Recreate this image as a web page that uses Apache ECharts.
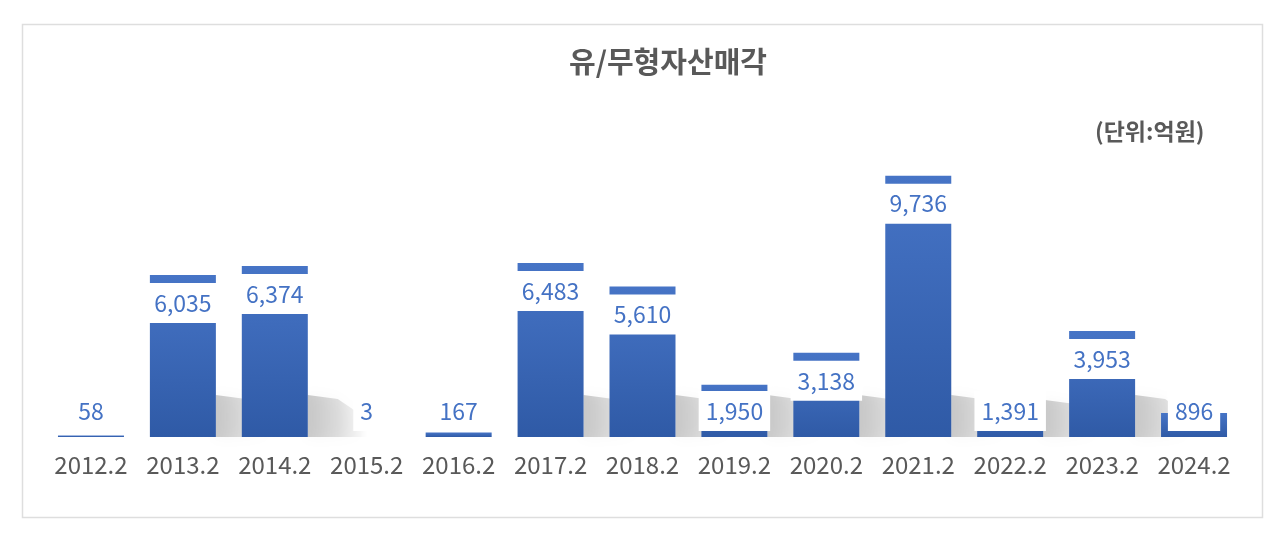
<!DOCTYPE html>
<html>
<head>
<meta charset="utf-8">
<script src="https://cdn.jsdelivr.net/npm/echarts@6/dist/echarts.min.js"></script>
<style>
  html, body { margin: 0; padding: 0; background: #fff; }
  #main { width: 1280px; height: 533px; }
</style>
</head>
<body>
<div id="main"></div>
<script>
// 연도별 유/무형자산 매각 (단위: 억원)
var years = ['2012.2','2013.2','2014.2','2015.2','2016.2','2017.2','2018.2','2019.2','2020.2','2021.2','2022.2','2023.2','2024.2'];
var sales = [58, 6035, 6374, 3, 167, 6483, 5610, 1950, 3138, 9736, 1391, 3953, 896];

var fontKr = '"Noto Sans CJK KR", "Noto Sans", sans-serif';
var barW = 66;

var myChart = echarts.init(document.getElementById('main'));

// 막대 오른쪽 바닥 그림자
function shadowItem(params, api) {
  var i = api.value(0);
  var base = api.coord([i, 0]);
  var top = api.coord([i, api.value(1)]);
  var h = Math.min(base[1] - top[1], 42);
  if (h < 30) return null;
  var x0 = base[0] + barW / 2;
  return {
    type: 'polygon',
    shape: { points: [[x0, base[1]], [x0, base[1] - h], [x0 + 30, base[1] - h + 4], [x0 + 55, base[1] - h * 0.5], [x0 + 60, base[1]]] },
    style: {
      fill: new echarts.graphic.LinearGradient(0, 0, 1, 0, [
        { offset: 0, color: 'rgba(0,0,0,0.2)' },
        { offset: 0.5, color: 'rgba(0,0,0,0.12)' },
        { offset: 1, color: 'rgba(0,0,0,0)' }
      ]),
      shadowBlur: 14,
      shadowColor: 'rgba(0,0,0,0.18)'
    }
  };
}

myChart.setOption({
  animation: false,
  title: {
    text: '유/무형자산매각',
    left: 663,
    textAlign: 'center',
    top: 42,
    textStyle: { fontFamily: fontKr, fontSize: 29, fontWeight: 'bold', color: '#595959' }
  },
  graphic: [
    {
      type: 'rect',
      shape: { x: 22.5, y: 24.5, width: 1240, height: 493 },
      style: { fill: 'none', stroke: '#dedede', lineWidth: 1.5 },
      silent: true
    },
    {
      type: 'text',
      left: 1095,
      top: 120,
      style: { text: '(단위:억원)', fontFamily: fontKr, fontSize: 23, fontWeight: 'bold', fill: '#595959' }
    }
  ],
  grid: { left: 45, right: 40, top: 115, bottom: 96 },
  xAxis: {
    type: 'category',
    data: years,
    axisLine: { show: false },
    axisTick: { show: false },
    axisLabel: { interval: 0, margin: 16, fontFamily: fontKr, fontSize: 24, color: '#595959' }
  },
  yAxis: {
    type: 'value',
    min: 0,
    max: 12000,
    show: false
  },
  series: [
    {
      type: 'custom',
      name: 'shadow',
      z: 1,
      silent: true,
      renderItem: shadowItem,
      encode: { x: 0, y: 1 },
      data: sales.map(function (v, i) { return [i, v]; })
    },
    {
      type: 'bar',
      name: '유/무형자산매각',
      z: 2,
      barWidth: barW,
      data: sales,
      itemStyle: {
        color: new echarts.graphic.LinearGradient(0, 0, 0, 1, [
          { offset: 0, color: '#4674c6' },
          { offset: 1, color: '#2f5aa6' }
        ])
      },
      label: {
        show: true,
        position: 'insideTop',
        formatter: function (p) { return p.value.toLocaleString('en-US'); },
        fontFamily: fontKr,
        fontSize: 23,
        color: '#4472c4',
        backgroundColor: '#fff',
        padding: [9, 7, 9, 7],
        lineHeight: 22
      },
      labelLayout: function (p) {
        var r = p.rect;
        return {
          x: r.x + r.width / 2,
          y: Math.min(r.y + 28, r.y + r.height - 26),
          align: 'center',
          verticalAlign: 'middle'
        };
      }
    }
  ]
});
</script>
</body>
</html>
